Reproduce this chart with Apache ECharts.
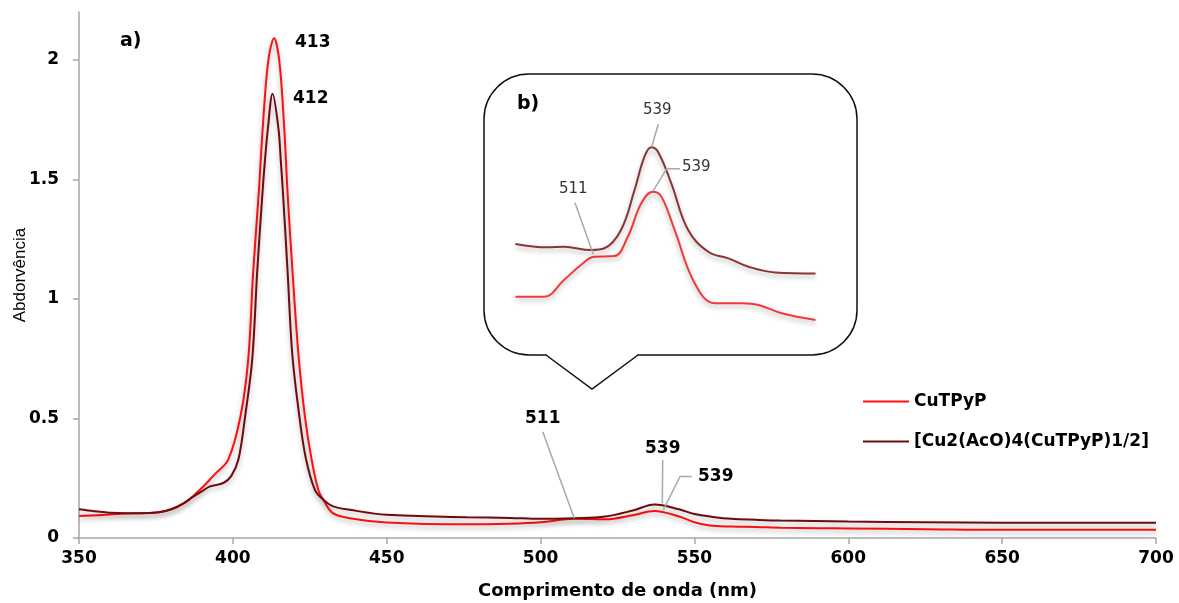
<!DOCTYPE html>
<html>
<head>
<meta charset="utf-8">
<script src="https://cdn.jsdelivr.net/npm/echarts@6/dist/echarts.min.js"></script>
<style>
html,body{margin:0;padding:0;background:#fff;}
#chart{width:1179px;height:603px;}
</style>
</head>
<body>
<div id="chart"></div>
<script>
// ---- Data ----
const seriesNames = ['CuTPyP', '[Cu2(AcO)4(CuTPyP)1/2]'];
const xTicks = [350, 400, 450, 500, 550, 600, 650, 700];
const yTicks = [0, 0.5, 1, 1.5, 2];

const redX = [350,360,365,370,376,380,384,387,391.5,394,398.5,402.5,405,406.6,408.4,409.7,411.5,413.4,415.1,416.7,417.8,419.4,421.3,423.4,425.6,427.8,429.4,432.5,438,450,476,490,500,511,521,530,537,545,550,555,562,570,578,590,600,625,650,675,700];
const redY = [0.092,0.098,0.102,0.104,0.108,0.12,0.145,0.174,0.23,0.265,0.328,0.51,0.748,1.112,1.44,1.714,1.995,2.09,1.995,1.714,1.44,1.112,0.77,0.51,0.328,0.2,0.16,0.104,0.083,0.065,0.057,0.06,0.066,0.08,0.078,0.095,0.113,0.09,0.066,0.052,0.048,0.046,0.043,0.041,0.04,0.037,0.034,0.034,0.034];

const darkX = [350,355,360,365,370,376,380,384,387,390,392.6,396.9,399.5,401.8,404,406.3,407.9,409.6,410.4,411.4,412.9,414.8,415.6,416.3,417.8,419.3,421.6,423.8,426.7,429.4,432.6,438,450,476,490,500,511,521,530,537,545,550,556,562,570,578,600,625,650,700];
const darkY = [0.12,0.112,0.106,0.104,0.104,0.108,0.12,0.145,0.172,0.196,0.216,0.23,0.26,0.328,0.51,0.748,1.112,1.44,1.574,1.714,1.858,1.714,1.574,1.44,1.112,0.77,0.51,0.328,0.2,0.16,0.132,0.118,0.097,0.087,0.084,0.08,0.083,0.09,0.115,0.14,0.12,0.1,0.088,0.08,0.076,0.073,0.069,0.066,0.064,0.064];

// inset (b): zoomed view, relative units
const insetDarkX = [474.2,489.3,497.2,510,516.3,524.2,530.6,535.3,538.5,541.7,548,556,565.5,575,584.6,597.2,616.3];
const insetDarkY = [0.453,0.435,0.438,0.421,0.43,0.526,0.737,0.912,0.962,0.938,0.772,0.526,0.412,0.377,0.333,0.303,0.298];
const insetRedX = [474.2,487.7,497.2,505.2,511.5,521,527.4,533.8,539.3,543.3,549.6,559.1,568.7,581.4,589.3,600.4,616.3];
const insetRedY = [0.175,0.175,0.263,0.342,0.386,0.389,0.491,0.667,0.728,0.702,0.526,0.246,0.141,0.141,0.132,0.088,0.053];

const peakLabels = ['413', '412', '511', '539', '539'];

// ---- Chart ----
const zip = (xs, ys) => xs.map((x, i) => [x, ys[i]]);
const RED = '#ff1010';
const DARK = '#6e0b0b';
const boldFont = 'DejaVu Sans';
const leader = '#a8a8a8';

const chart = echarts.init(document.getElementById('chart'), null, {renderer: 'canvas'});

const lineShadow = {shadowColor: 'rgba(0,0,0,0.3)', shadowBlur: 5, shadowOffsetY: 3};

function txt(text, left, top, size, weight, color) {
  return {type: 'text', left: left, top: top, z: 20,
    style: {text: text, fontFamily: boldFont, fontSize: size, fontWeight: weight, fill: color || '#000'}};
}
function pline(points) {
  return {type: 'polyline', z: 20, shape: {points: points},
    style: {stroke: leader, lineWidth: 1.5, fill: null}};
}

const option = {
  backgroundColor: '#fff',
  animation: false,
  grid: [
    {left: 79, right: 23, top: 12, bottom: 65, containLabel: false, outerBoundsMode: 'none'},
    {left: 515, top: 140, width: 302, height: 190, containLabel: false, outerBoundsMode: 'none'}
  ],
  legend: {
    data: seriesNames,
    orient: 'vertical',
    left: 858,
    top: 388,
    itemWidth: 46,
    itemHeight: 2,
    itemGap: 23,
    icon: 'rect',
    textStyle: {fontFamily: boldFont, fontWeight: 'bold', fontSize: 17, color: '#000'}
  },
  xAxis: [
    {
      type: 'value', gridIndex: 0, min: 350, max: 700, interval: 50,
      name: 'Comprimento de onda (nm)', nameLocation: 'middle', nameGap: 44, nameMoveOverlap: false,
      nameTextStyle: {fontFamily: boldFont, fontWeight: 'bold', fontSize: 18, color: '#000'},
      axisLine: {lineStyle: {color: '#a6a6a6', width: 1.5}},
      axisTick: {show: true, inside: false, length: 6, lineStyle: {color: '#a6a6a6', width: 1.5}},
      axisLabel: {fontFamily: boldFont, fontWeight: 'bold', fontSize: 17, color: '#000', margin: 12,
        formatter: v => xTicks.includes(v) ? String(v) : ''},
      splitLine: {show: false}
    },
    {type: 'value', gridIndex: 1, min: 474, max: 617, show: false, splitLine: {show: false}}
  ],
  yAxis: [
    {
      type: 'value', gridIndex: 0, min: 0, max: 2.2, interval: 0.5,
      name: 'Abdorvência', nameLocation: 'middle', nameGap: 50, nameMoveOverlap: false,
      nameTextStyle: {fontFamily: 'Liberation Sans', fontSize: 17, color: '#000'},
      axisLine: {show: true, lineStyle: {color: '#a6a6a6', width: 1.5}},
      axisTick: {show: true, inside: false, length: 6, lineStyle: {color: '#a6a6a6', width: 1.5}},
      axisLabel: {fontFamily: boldFont, fontWeight: 'bold', fontSize: 17, color: '#000', margin: 20,
        showMaxLabel: false,
        formatter: v => yTicks.includes(v) ? String(v) : ''},
      splitLine: {show: false}
    },
    {type: 'value', gridIndex: 1, min: 0, max: 1, show: false, splitLine: {show: false}}
  ],
  series: [
    {
      name: seriesNames[0], type: 'line', xAxisIndex: 0, yAxisIndex: 0,
      data: zip(redX, redY), smooth: 0.35, symbol: 'none', color: RED,
      lineStyle: Object.assign({color: RED, width: 2}, lineShadow), z: 3
    },
    {
      name: seriesNames[1], type: 'line', xAxisIndex: 0, yAxisIndex: 0,
      data: zip(darkX, darkY), smooth: 0.35, symbol: 'none', color: DARK,
      lineStyle: Object.assign({color: DARK, width: 2}, lineShadow), z: 4
    },
    {
      name: 'inset-red', type: 'line', xAxisIndex: 1, yAxisIndex: 1,
      data: zip(insetRedX, insetRedY), smooth: 0.4, symbol: 'none', color: '#f03a3a',
      lineStyle: Object.assign({color: '#f03a3a', width: 2}, lineShadow), z: 12
    },
    {
      name: 'inset-dark', type: 'line', xAxisIndex: 1, yAxisIndex: 1,
      data: zip(insetDarkX, insetDarkY), smooth: 0.4, symbol: 'none', color: '#8a3535',
      lineStyle: Object.assign({color: '#8a3535', width: 2}, lineShadow), z: 12
    }
  ],
  graphic: [
    {
      type: 'rect', z: 9,
      shape: {x: 484, y: 74, width: 373, height: 281, r: 45},
      style: {fill: '#fff', stroke: '#111', lineWidth: 1.5}
    },
    {
      type: 'polygon', z: 10,
      shape: {points: [[547, 352], [637, 352], [637, 356], [592, 389], [547, 356]]},
      style: {fill: '#fff', stroke: null}
    },
    {
      type: 'polyline', z: 10,
      shape: {points: [[546, 355], [592, 389], [638, 355]]},
      style: {fill: null, stroke: '#111', lineWidth: 1.5}
    },
    txt('a)', 120, 32, 19, 'bold'),
    txt(peakLabels[0], 295, 34, 17, 'bold'),
    txt(peakLabels[1], 293, 90, 17, 'bold'),
    txt(peakLabels[2], 525, 410, 17, 'bold'),
    pline([[542.7, 431.7], [574.3, 518.3]]),
    txt(peakLabels[3], 645, 440, 17, 'bold'),
    pline([[662.7, 460], [662.3, 503.3]]),
    txt(peakLabels[4], 698, 468, 17, 'bold'),
    pline([[691.7, 476.5], [680, 476.5], [663.3, 510]]),
    txt('b)', 517, 95, 19, 'bold'),
    txt('539', 643, 103, 15, 'normal', '#333'),
    pline([[658.3, 124], [651.7, 147]]),
    txt('539', 682, 160, 15, 'normal', '#333'),
    pline([[680, 168.7], [666.7, 168.7], [653.3, 190.7]]),
    txt('511', 559, 182, 15, 'normal', '#333'),
    pline([[575, 202.7], [593.3, 254.3]])
  ]
};
chart.setOption(option);
</script>
</body>
</html>
